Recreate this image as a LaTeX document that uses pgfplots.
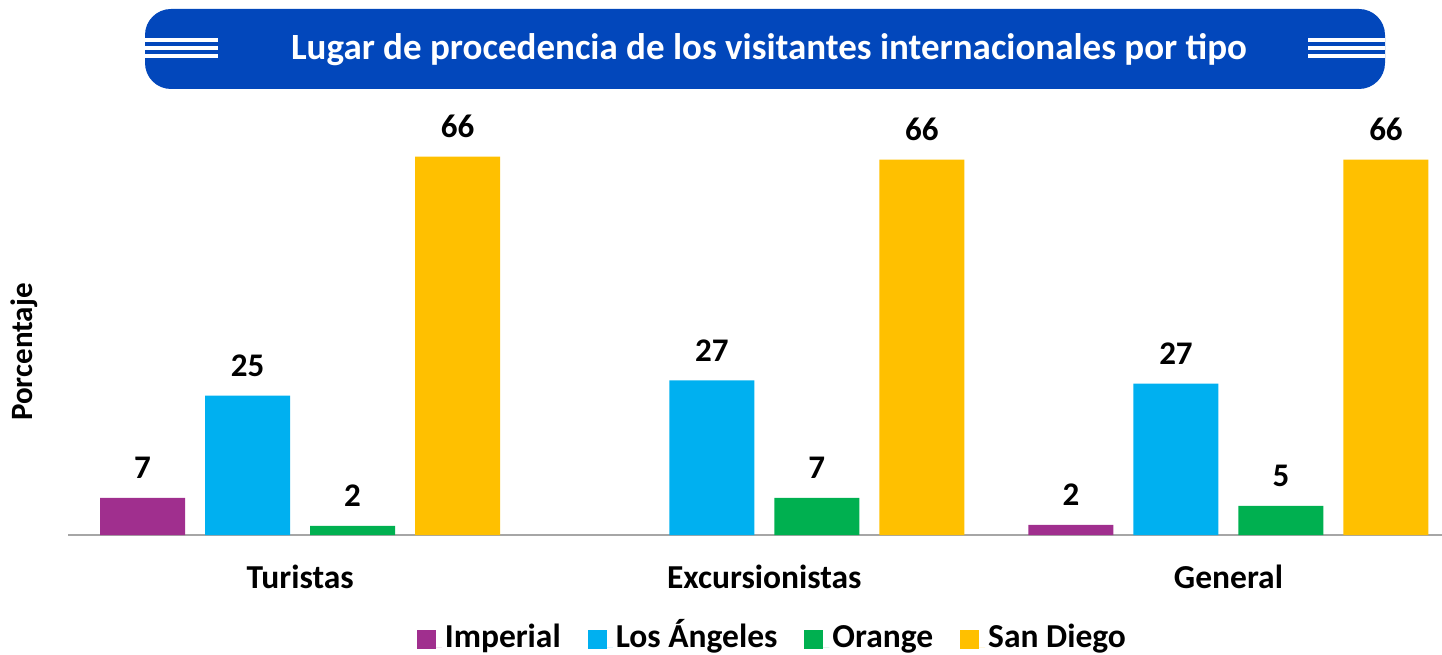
\documentclass[border=0pt]{standalone}
\usepackage{fontspec}
\setmainfont{Carlito}
\usepackage{pgfplots}
\pgfplotsset{compat=1.18}
\definecolor{cImp}{RGB}{160,47,142}
\definecolor{cLA}{RGB}{0,176,240}
\definecolor{cOr}{RGB}{0,176,80}
\definecolor{cSD}{RGB}{255,192,0}
\definecolor{cBan}{RGB}{2,71,187}
\definecolor{cAx}{RGB}{166,166,166}
\pgfplotsset{sqleg/.style={legend image code/.code={\path (0pt,0pt) -- (25pt,0pt);\fill[##1] (0pt,-1pt) rectangle (19pt,18pt);}}}
\begin{document}
\begin{tikzpicture}[x=1pt,y=1pt]
\useasboundingbox (0,0) rectangle (1442,654);
% banner
\fill[cBan, rounded corners=26pt] (145,565) rectangle (1385,645);
\foreach \yy in {614,606,598} {
  \fill[white] (145,\yy-1.75) rectangle (218,\yy+1.75);
  \fill[white] (1308,\yy-1.75) rectangle (1385,\yy+1.75);
}
\node[text=white, font=\fontsize{37}{44}\selectfont\bfseries] at (769,604) {Lugar de procedencia de los visitantes internacionales por tipo};
% y label
\node[rotate=90, font=\fontsize{31}{36}\selectfont\bfseries] at (24,302) {Porcentaje};
\begin{axis}[
  at={(68pt,119pt)}, anchor=south west,
  scale only axis, width=1374pt, height=435pt,
  xmin=-0.5, xmax=2.46, ymin=0, ymax=75.9,
  ybar=20pt, bar width=85pt,
  axis x line*=bottom, axis y line=none,
  x axis line style={draw=cAx, line width=2pt, -},
  xtick={0,1,2}, xticklabels={Turistas,Excursionistas,General},
  major tick length=0pt,
  xticklabel style={font=\fontsize{33.5}{40}\selectfont\bfseries, inner sep=0pt, yshift=-30pt},
  ytick=\empty,
  nodes near coords, point meta=explicit symbolic,
  every node near coord/.append style={font=\fontsize{33}{40}\selectfont\bfseries, text=black, anchor=base, inner sep=0pt, yshift=19pt},
  legend columns=4,
  legend style={at={(axis description cs:0.513,-0.241)}, anchor=center, draw=none, fill=none,
    font=\fontsize{33.5}{40}\selectfont\bfseries,
    nodes={text height=23pt, text depth=7pt, inner sep=3pt, anchor=base west},
    /tikz/every even column/.append style={column sep=24pt}},
]
\addplot[fill=cImp, draw=none, sqleg] coordinates {(0,6.5) [7] (2,1.75) [2]};
\addplot[fill=cLA, draw=none, sqleg] coordinates {(0,24.3) [25] (1,27.0) [27] (2,26.4) [27]};
\addplot[fill=cOr, draw=none, sqleg] coordinates {(0,1.6) [2] (1,6.5) [7] (2,5.1) [5]};
\addplot[fill=cSD, draw=none, sqleg] coordinates {(0,66.0) [66] (1,65.5) [66] (2,65.5) [66]};
\legend{Imperial, Los Ángeles, Orange, San Diego}
\end{axis}
\end{tikzpicture}
\end{document}
